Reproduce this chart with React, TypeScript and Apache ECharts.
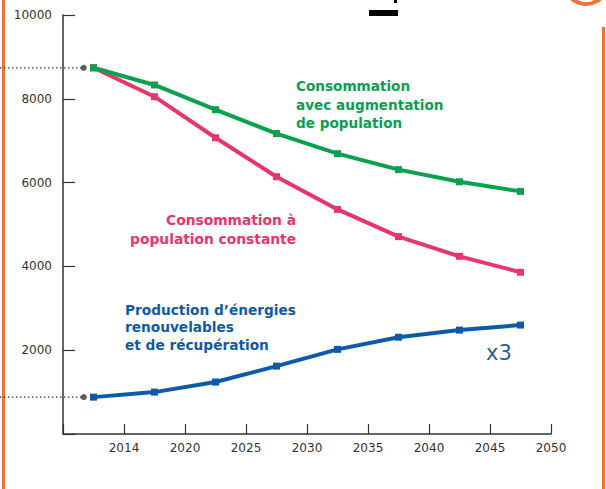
import React, { useEffect, useRef } from "react";
import * as echarts from "echarts";

const years = [2012.5, 2017.5, 2022.5, 2027.5, 2032.5, 2037.5, 2042.5, 2047.5];
const consoCroissance = [8740, 8330, 7740, 7170, 6690, 6310, 6020, 5790];
const consoConstante = [8740, 8050, 7070, 6140, 5360, 4710, 4240, 3860];
const productionEnR = [880, 1000, 1240, 1620, 2020, 2310, 2480, 2600];
const startYear = 2011.7;
const xTickLabels = ["", "2014", "2020", "2025", "2030", "2035", "2040", "2045", "2050"];
const yTickLabels = ["", "2000", "4000", "6000", "8000", "10000"];

const GREEN = "#0aa04f";
const RED = "#e8356a";
const BLUE = "#0d5ba8";
const ORANGE = "#f07233";
const AXIS = "#333333";

export default function App() {
  const ref = useRef<HTMLDivElement>(null);
  useEffect(() => {
    if (!ref.current) return;
    const chart = echarts.init(ref.current, null, { renderer: "svg" });
    const pair = (vals: number[]) => years.map((y, i) => [y, vals[i]]);
    const lineSeries = (name: string, vals: number[], color: string) => ({
      name,
      type: "line",
      data: pair(vals),
      symbol: "rect",
      symbolSize: 7,
      showSymbol: true,
      lineStyle: { color, width: 4 },
      itemStyle: { color },
      z: 3,
    });
    const baseGraphic: any[] = [
      { type: "rect", shape: { x: 2, y: 0, width: 3, height: 489 }, style: { fill: ORANGE } },
      { type: "rect", shape: { x: 602, y: 27, width: 3, height: 462 }, style: { fill: ORANGE } },
      {
        type: "circle",
        shape: { cx: 586, cy: -18, r: 22 },
        style: { fill: "none", stroke: ORANGE, lineWidth: 4 },
      },
      { type: "rect", shape: { x: 369, y: 10, width: 29, height: 6 }, style: { fill: "#000" } },
      { type: "rect", shape: { x: 394, y: 0, width: 3, height: 3 }, style: { fill: "#000" } },
      {
        type: "text",
        left: 296,
        top: 77,
        style: {
          text: "Consommation\navec augmentation\nde population",
          fill: GREEN,
          font: "bold 13.6px 'DejaVu Sans'",
          lineHeight: 18.5,
          align: "left",
        },
      },
      {
        type: "text",
        x: 296,
        y: 210,
        style: {
          text: "Consommation à\npopulation constante",
          fill: RED,
          font: "bold 13.8px 'DejaVu Sans'",
          lineHeight: 19,
          align: "right",
        },
      },
      {
        type: "text",
        left: 125,
        top: 301,
        style: {
          text: "Production d\u2019énergies\nrenouvelables\net de récupération",
          fill: BLUE,
          font: "bold 13.7px 'DejaVu Sans'",
          lineHeight: 17.5,
          align: "left",
        },
      },
      {
        type: "text",
        left: 486,
        top: 342,
        style: { text: "x3", fill: "#2b5ba3", font: "21px 'DejaVu Sans'" },
      },
    ];
    chart.setOption({
      animation: false,
      grid: { left: 63, right: 55, top: 15, bottom: 55 },
      xAxis: {
        type: "value",
        min: 2010,
        max: 2050,
        interval: 5,
        axisLine: { show: true, lineStyle: { color: AXIS, width: 1.5 } },
        axisTick: { show: true, inside: true, length: 10, lineStyle: { color: AXIS, width: 1.2 } },
        splitLine: { show: false },
        axisLabel: {
          color: AXIS,
          fontFamily: "DejaVu Sans",
          fontSize: 12,
          margin: 8,
          formatter: (v: number) => xTickLabels[Math.round((v - 2010) / 5)] ?? "",
        },
      },
      yAxis: {
        type: "value",
        min: 0,
        max: 10000,
        interval: 2000,
        axisLine: { show: true, lineStyle: { color: AXIS, width: 1.5 } },
        axisTick: { show: true, inside: true, length: 12, lineStyle: { color: AXIS, width: 1.2 } },
        splitLine: { show: false },
        axisLabel: {
          color: AXIS,
          fontFamily: "DejaVu Sans",
          fontSize: 12,
          margin: 11,
          formatter: (v: number) => yTickLabels[Math.round(v / 2000)] ?? "",
        },
      },
      series: [
        {
          type: "scatter",
          data: [
            [startYear, consoCroissance[0]],
            [startYear, productionEnR[0]],
          ],
          symbol: "circle",
          symbolSize: 6,
          itemStyle: { color: AXIS },
          z: 4,
        },
        lineSeries("Consommation à population constante", consoConstante, RED),
        lineSeries("Consommation avec augmentation de population", consoCroissance, GREEN),
        lineSeries("Production d'énergies renouvelables et de récupération", productionEnR, BLUE),
      ],
      graphic: baseGraphic,
    });
    const dotted = [consoCroissance[0], productionEnR[0]].map((v) => {
      const p = chart.convertToPixel({ gridIndex: 0 }, [startYear, v]) as number[];
      return {
        type: "line",
        shape: { x1: 0, y1: p[1], x2: p[0], y2: p[1] },
        style: { stroke: AXIS, lineWidth: 1.2, lineDash: [1.5, 2.5] },
        z: 1,
      };
    });
    chart.setOption({ graphic: [...baseGraphic, ...dotted] });
    return () => chart.dispose();
  }, []);
  return (
    <div
      ref={ref}
      style={{ position: "fixed", left: 0, top: 0, width: 606, height: 489, background: "#fff" }}
    />
  );
}
